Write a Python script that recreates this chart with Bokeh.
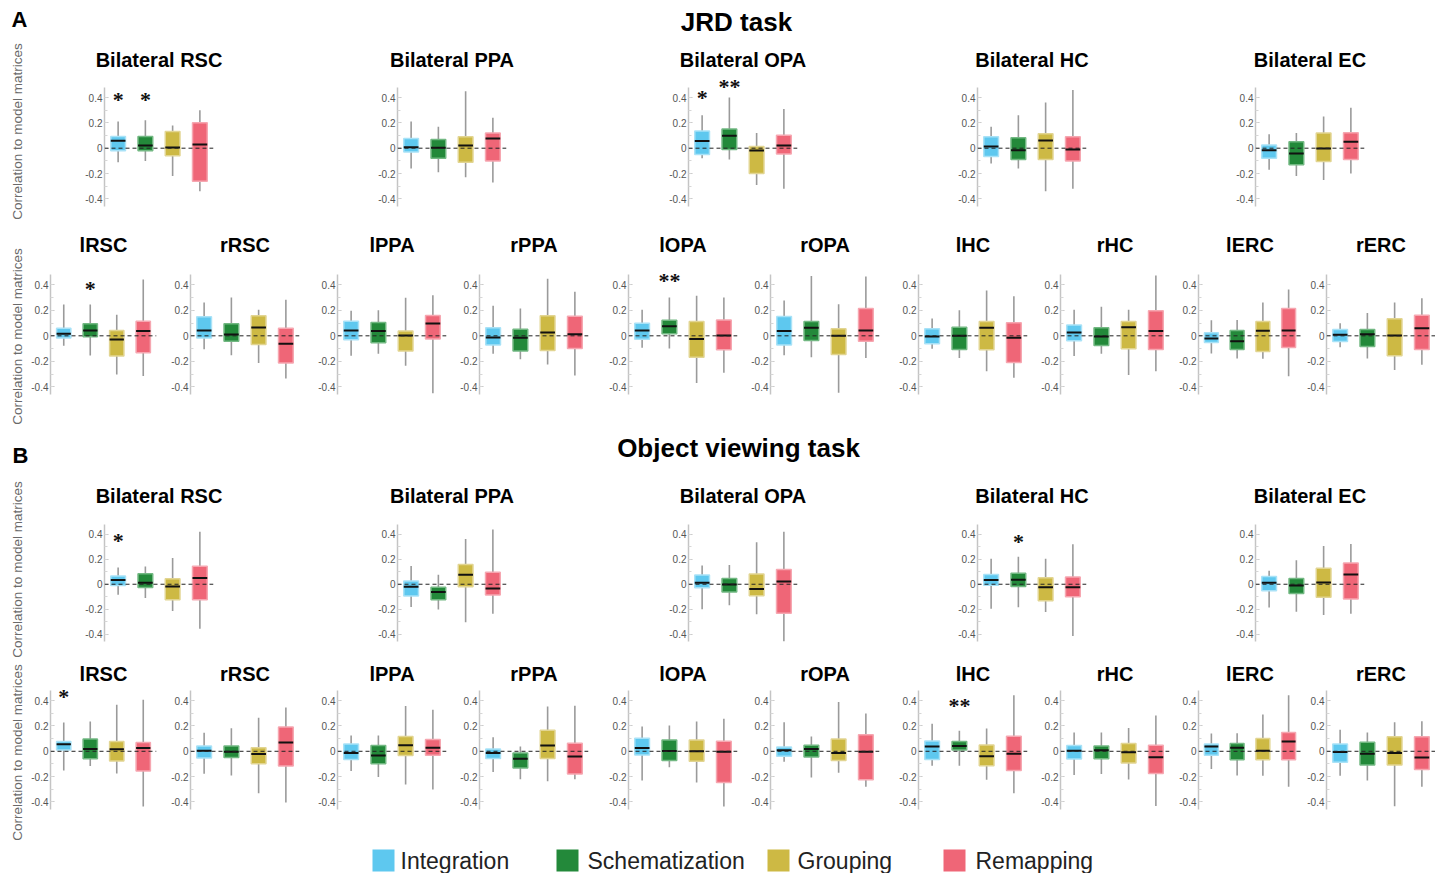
import math
from bokeh.plotting import figure
from bokeh.layouts import column, row
from bokeh.models import (Range1d, FixedTicker, Span, ColumnDataSource, CustomJSTickFormatter,
                          LabelSet)
from bokeh.core.properties import value
from bokeh.embed import file_html
from bokeh.resources import INLINE

# ---------------- data ----------------
conditions = ["Integration", "Schematization", "Grouping", "Remapping"]
cond_colors = ["#5ec8ef", "#23893a", "#cdb944", "#ef6677"]
cond_edges = ["#a9e2f7", "#72b882", "#e2d592", "#f6a7b1"]

bilateral_rois = ["Bilateral RSC", "Bilateral PPA", "Bilateral OPA", "Bilateral HC", "Bilateral EC"]
hemi_rois = ["lRSC", "rRSC", "lPPA", "rPPA", "lOPA", "rOPA", "lHC", "rHC", "lERC", "rERC"]

tick_values = [-0.4, -0.2, 0, 0.2, 0.4]
minor_tick_values = [-0.4, -0.3, -0.2, -0.1, 0, 0.1, 0.2, 0.3, 0.4]

# JRD task, bilateral ROIs (per ROI: Integration, Schematization, Grouping, Remapping)
jrd_bi_lo = [[-0.11, -0.10, -0.22, -0.34], [-0.16, -0.19, -0.23, -0.27], [-0.08, -0.09, -0.29, -0.32],
             [-0.12, -0.16, -0.34, -0.32], [-0.17, -0.22, -0.25, -0.20]]
jrd_bi_q1 = [[-0.02, -0.02, -0.06, -0.26], [-0.03, -0.08, -0.11, -0.10], [-0.05, -0.01, -0.20, -0.045],
             [-0.065, -0.09, -0.09, -0.10], [-0.08, -0.13, -0.105, -0.09]]
jrd_bi_med = [[0.058, 0.021, 0.005, 0.029], [0.008, 0.003, 0.021, 0.077], [0.056, 0.098, -0.019, 0.021],
              [0.013, -0.016, 0.061, -0.011], [-0.016, -0.042, -0.003, 0.05]]
jrd_bi_q3 = [[0.093, 0.093, 0.132, 0.20], [0.077, 0.069, 0.09, 0.12], [0.135, 0.151, 0.013, 0.103],
             [0.09, 0.082, 0.114, 0.09], [0.026, 0.05, 0.119, 0.122]]
jrd_bi_hi = [[0.21, 0.22, 0.18, 0.30], [0.21, 0.17, 0.45, 0.24], [0.26, 0.40, 0.12, 0.31],
             [0.17, 0.26, 0.36, 0.46], [0.11, 0.12, 0.25, 0.32]]
jrd_bi_sig = [(0, 0, "*", 0.385), (0, 1, "*", 0.385), (2, 0, "*", 0.40), (2, 1, "**", 0.49)]

# JRD task, hemispheric ROIs
jrd_hemi_lo = [[-0.078, -0.154, -0.303, -0.314], [-0.105, -0.152, -0.214, -0.335], [-0.157, -0.141, -0.235, -0.45],
               [-0.141, -0.183, -0.225, -0.311], [-0.094, -0.099, -0.369, -0.29], [-0.152, -0.167, -0.447, -0.173],
               [-0.102, -0.173, -0.277, -0.329], [-0.159, -0.141, -0.308, -0.277], [-0.139, -0.178, -0.18, -0.316],
               [-0.089, -0.178, -0.267, -0.227]]
jrd_hemi_q1 = [[-0.018, -0.008, -0.159, -0.133], [-0.018, -0.042, -0.068, -0.214], [-0.031, -0.055, -0.118, -0.024],
               [-0.071, -0.118, -0.115, -0.099], [-0.026, 0.016, -0.167, -0.11], [-0.071, -0.037, -0.146, -0.042],
               [-0.063, -0.107, -0.11, -0.209], [-0.039, -0.076, -0.102, -0.107], [-0.052, -0.107, -0.123, -0.092],
               [-0.044, -0.084, -0.157, -0.107]]
jrd_hemi_med = [[0.016, 0.042, -0.029, 0.037], [0.042, 0.01, 0.065, -0.063], [0.042, 0.037, 0.003, 0.097],
                [-0.013, -0.016, 0.026, 0.013], [0.042, 0.076, -0.024, 0.003], [0.037, 0.063, 0.0, 0.042],
                [-0.005, 0.0, 0.063, -0.016], [0.026, -0.005, 0.068, 0.037], [-0.021, -0.042, 0.039, 0.042],
                [0.008, 0.013, 0.003, 0.06]]
jrd_hemi_q3 = [[0.06, 0.094, 0.042, 0.115], [0.149, 0.094, 0.157, 0.06], [0.115, 0.105, 0.037, 0.159],
               [0.063, 0.052, 0.157, 0.154], [0.099, 0.123, 0.112, 0.125], [0.152, 0.112, 0.055, 0.214],
               [0.055, 0.068, 0.112, 0.102], [0.084, 0.063, 0.112, 0.196], [0.024, 0.042, 0.112, 0.214],
               [0.05, 0.05, 0.133, 0.162]]
jrd_hemi_hi = [[0.246, 0.246, 0.165, 0.442], [0.261, 0.30, 0.204, 0.282], [0.196, 0.201, 0.298, 0.319],
               [0.235, 0.214, 0.447, 0.345], [0.204, 0.30, 0.314, 0.30], [0.277, 0.47, 0.248, 0.465],
               [0.136, 0.201, 0.356, 0.311], [0.204, 0.227, 0.204, 0.473], [0.123, 0.125, 0.261, 0.363],
               [0.099, 0.178, 0.261, 0.295]]
jrd_hemi_sig = [(0, 1, "*", 0.37), (4, 1, "**", 0.43)]

# Object viewing task, bilateral ROIs
ov_bi_lo = [[-0.084, -0.11, -0.216, -0.358], [-0.182, -0.203, -0.305, -0.237], [-0.20, -0.168, -0.242, -0.46],
            [-0.197, -0.184, -0.224, -0.416], [-0.187, -0.221, -0.247, -0.237]]
ov_bi_q1 = [[-0.011, -0.026, -0.124, -0.124], [-0.095, -0.124, -0.021, -0.087], [-0.029, -0.063, -0.092, -0.234],
            [-0.008, -0.018, -0.132, -0.10], [-0.053, -0.074, -0.105, -0.118]]
ov_bi_med = [[0.034, 0.011, -0.018, 0.05], [-0.021, -0.063, 0.076, -0.034], [0.011, -0.003, -0.039, 0.021],
             [0.034, 0.037, -0.024, -0.024], [0.011, -0.011, 0.013, 0.079]]
ov_bi_q3 = [[0.066, 0.084, 0.045, 0.145], [0.026, -0.024, 0.158, 0.097], [0.074, 0.047, 0.082, 0.118],
            [0.079, 0.089, 0.053, 0.058], [0.063, 0.047, 0.129, 0.171]]
ov_bi_hi = [[0.134, 0.142, 0.21, 0.421], [0.147, 0.076, 0.363, 0.44], [0.15, 0.155, 0.337, 0.421],
            [0.205, 0.221, 0.205, 0.321], [0.108, 0.192, 0.308, 0.324]]
ov_bi_sig = [(0, 0, "*", 0.35), (3, 1, "*", 0.34)]

# Object viewing task, hemispheric ROIs
ov_hemi_lo = [[-0.151, -0.117, -0.175, -0.437], [-0.177, -0.191, -0.331, -0.405], [-0.156, -0.204, -0.262, -0.302],
              [-0.164, -0.22, -0.236, -0.22], [-0.23, -0.127, -0.246, -0.437], [-0.082, -0.207, -0.17, -0.281],
              [-0.114, -0.114, -0.225, -0.331], [-0.188, -0.18, -0.223, -0.432], [-0.14, -0.191, -0.193, -0.281],
              [-0.193, -0.23, -0.434, -0.281]]
ov_hemi_q1 = [[0.011, -0.058, -0.077, -0.156], [-0.053, -0.05, -0.098, -0.117], [-0.064, -0.098, -0.034, -0.032],
              [-0.056, -0.132, -0.056, -0.18], [-0.029, -0.072, -0.079, -0.246], [-0.04, -0.045, -0.072, -0.225],
              [-0.064, 0.011, -0.114, -0.151], [-0.061, -0.058, -0.093, -0.175], [-0.032, -0.066, -0.066, -0.066],
              [-0.087, -0.109, -0.109, -0.143]]
ov_hemi_med = [[0.056, 0.019, 0.016, 0.026], [0.005, -0.003, -0.021, 0.069], [-0.013, -0.034, 0.048, 0.029],
               [-0.013, -0.058, 0.045, -0.042], [0.026, 0.003, 0.0, -0.003], [0.008, 0.019, -0.013, -0.003],
               [0.037, 0.042, -0.04, -0.019], [0.005, 0.008, -0.008, -0.048], [0.037, 0.029, 0.005, 0.077],
               [-0.005, -0.019, -0.013, -0.05]]
ov_hemi_q3 = [[0.077, 0.098, 0.077, 0.069], [0.042, 0.042, 0.029, 0.193], [0.058, 0.045, 0.117, 0.093],
              [0.019, -0.013, 0.167, 0.064], [0.103, 0.09, 0.09, 0.079], [0.034, 0.048, 0.098, 0.13],
              [0.082, 0.077, 0.05, 0.119], [0.045, 0.042, 0.061, 0.048], [0.058, 0.061, 0.101, 0.148],
              [0.058, 0.072, 0.114, 0.114]]
ov_hemi_hi = [[0.228, 0.236, 0.368, 0.408], [0.146, 0.183, 0.265, 0.347], [0.125, 0.125, 0.358, 0.328],
              [0.111, 0.037, 0.355, 0.36], [0.196, 0.204, 0.236, 0.257], [0.23, 0.117, 0.39, 0.299],
              [0.217, 0.162, 0.18, 0.442], [0.148, 0.148, 0.185, 0.283], [0.14, 0.143, 0.291, 0.442],
              [0.17, 0.148, 0.23, 0.238]]
ov_hemi_sig = [(0, 0, "*", 0.43), (6, 1, "**", 0.36)]

# ---------------- styling / layout constants ----------------
FONT = "Liberation Sans"
Y0, Y_AXIS_TOP = -0.46, 0.48
FRAME_W = 109
BOX_W = 0.54
WHISKER = "#9a9a9a"
YLABEL = "Correlation to model matrices"
PAGE_H = 873
LAB_W = 28          # width of the left strip holding the rotated y labels and panel letters


def blank_fig(w, h):
    p = figure(width=w, height=h, x_range=Range1d(0, w), y_range=Range1d(0, h),
               output_backend="svg", toolbar_location=None,
               x_axis_location=None, y_axis_location=None, min_border=0)
    p.outline_line_color = None
    p.grid.visible = False
    p.background_fill_color = "white"
    p.border_fill_color = "white"
    return p


def add_text(p, x, y_top, txt, size, bold=False, align="center", color="black", angle=0.0):
    h = p.height
    p.text(x=[x], y=[h - y_top], text=[txt], text_font=value(FONT), text_font_size=size,
           text_font_style="bold" if bold else "normal", text_align=align,
           text_baseline="middle", text_color=color, angle=angle)


def panel(title, lo, q1, med, q3, hi, sigs, width, left, top, bottom, fh, standoff, y_top):
    right = max(width - left - FRAME_W, 0)
    p = figure(width=width, height=top + fh + bottom, x_range=Range1d(0.5, 4.5),
               y_range=Range1d(Y0, y_top), output_backend="svg", toolbar_location=None,
               x_axis_location=None, title=title,
               min_border_left=left, min_border_right=right,
               min_border_top=top, min_border_bottom=bottom)
    p.outline_line_color = None
    p.grid.visible = False
    p.title.text_font = FONT
    p.title.text_font_size = "20px"
    p.title.text_font_style = "bold"
    p.title.align = "center"
    p.title.standoff = standoff
    p.title.text_color = "black"

    xs = [1, 2, 3, 4]
    src = ColumnDataSource(dict(
        x=xs, lo=lo, q1=q1, med=med, q3=q3, hi=hi,
        xl=[x - BOX_W / 2 for x in xs], xr=[x + BOX_W / 2 for x in xs],
        color=cond_colors, edge=cond_edges))
    p.segment(x0="x", y0="lo", x1="x", y1="q1", source=src, line_color=WHISKER, line_width=1.6)
    p.segment(x0="x", y0="q3", x1="x", y1="hi", source=src, line_color=WHISKER, line_width=1.6)
    p.vbar(x="x", width=BOX_W, bottom="q1", top="q3", source=src,
           fill_color="color", line_color="edge", line_width=1.5)
    p.segment(x0="xl", y0="med", x1="xr", y1="med", source=src, line_color="#111111", line_width=2)
    p.add_layout(Span(location=0, dimension="width", line_color="#222222",
                      line_dash="4 3", line_width=1))
    if sigs:
        ssrc = ColumnDataSource(dict(x=[c + 1 for c, _, _ in sigs],
                                     y=[y for _, _, y in sigs],
                                     text=[s for _, s, _ in sigs]))
        p.add_layout(LabelSet(x="x", y="y", text="text", source=ssrc, text_font=FONT,
                              text_font_size="22px", text_font_style="bold",
                              text_align="center", text_baseline="middle", text_color="#111111"))

    ax = p.yaxis[0]
    ax.bounds = (Y0, Y_AXIS_TOP)
    ax.ticker = FixedTicker(ticks=tick_values, minor_ticks=minor_tick_values)
    ax.formatter = CustomJSTickFormatter(code="return Math.abs(tick) < 1e-9 ? '0' : tick.toFixed(1);")
    ax.axis_line_color = "#c4c4c4"
    ax.axis_line_width = 1.5
    ax.major_tick_in = 4
    ax.major_tick_out = 0
    ax.major_tick_line_color = "#c4c4c4"
    ax.minor_tick_in = 3
    ax.minor_tick_out = 0
    ax.minor_tick_line_color = "#d6d6d6"
    ax.major_label_text_font = FONT
    ax.major_label_text_font_size = "10px"
    ax.major_label_text_color = "#555555"
    ax.major_label_standoff = 2
    return p


def sig_for(sigs, i):
    return [(c, s, y) for (pi, c, s, y) in sigs if pi == i]


def build_row(rois, lo, q1, med, q3, hi, sigs, widths, first_left, left, top, bottom, fh,
              standoff, y_top):
    kids = []
    for i, name in enumerate(rois):
        kids.append(panel(name, lo[i], q1[i], med[i], q3[i], hi[i], sig_for(sigs, i),
                          widths[i], first_left if i == 0 else left, top, bottom, fh,
                          standoff, y_top))
    return row(*kids, spacing=0)


TOTAL_W = 1443 - 8 - LAB_W
BI_WIDTHS = [367 - LAB_W, 291, 289, 278, 149]
HEMI_WIDTHS = [165 - LAB_W, 147, 142, 149, 142, 148, 142, 138, 128, 134]

# left strip: panel letters and the four rotated y-axis labels (page coordinates)
ylab = blank_fig(LAB_W, PAGE_H)
add_text(ylab, 11, 19, "A", "22px", bold=True, align="left")
add_text(ylab, 12, 455, "B", "22px", bold=True, align="left")
for yc in [131, 336, 569, 752]:
    add_text(ylab, 16.5, yc, YLABEL, "13.5px", color="#6a6a6a", angle=math.pi / 2)

# header A (page y 0-35)
hA = blank_fig(TOTAL_W, 35)
add_text(hA, 736 - LAB_W, 21, "JRD task", "26px", bold=True)

# row 1 (35-211), row 2 (211-414)
row1 = build_row(bilateral_rois, jrd_bi_lo, jrd_bi_q1, jrd_bi_med, jrd_bi_q3, jrd_bi_hi, jrd_bi_sig,
                 BI_WIDTHS, 104 - LAB_W, 30, 43, 5, 128, 15, 0.55)
row2 = build_row(hemi_rois, jrd_hemi_lo, jrd_hemi_q1, jrd_hemi_med, jrd_hemi_q3, jrd_hemi_hi, jrd_hemi_sig,
                 HEMI_WIDTHS, 47 - LAB_W, 25, 58, 20, 125, 27, 0.52)

# header B (414-470)
hB = blank_fig(TOTAL_W, 56)
add_text(hB, 738 - LAB_W, 33, "Object viewing task", "26px", bold=True)

# row 3 (470-645), row 4 (645-819)
row3 = build_row(bilateral_rois, ov_bi_lo, ov_bi_q1, ov_bi_med, ov_bi_q3, ov_bi_hi, ov_bi_sig,
                 BI_WIDTHS, 104 - LAB_W, 30, 47, 4, 124, 25, 0.52)
row4 = build_row(hemi_rois, ov_hemi_lo, ov_hemi_q1, ov_hemi_med, ov_hemi_q3, ov_hemi_hi, ov_hemi_sig,
                 HEMI_WIDTHS, 47 - LAB_W, 25, 40, 10, 124, 2, 0.52)

# legend (819-873)
leg = blank_fig(TOTAL_W, 54)
leg_sq_x = [383 - LAB_W, 567 - LAB_W, 778 - LAB_W, 954 - LAB_W]
leg_tx_x = [400 - LAB_W, 587 - LAB_W, 797 - LAB_W, 975 - LAB_W]
LEG_Y = 41
leg.rect(x=leg_sq_x, y=[leg.height - LEG_Y] * 4, width=22, height=22,
         fill_color=cond_colors, line_color=None)
leg.text(x=leg_tx_x, y=[leg.height - LEG_Y] * 4, text=conditions, text_font=value(FONT),
         text_font_size="23px", text_align="left", text_baseline="middle", text_color="#222222")

main = column(hA, row1, row2, hB, row3, row4, leg, spacing=0)
layout = row(ylab, main, spacing=0)

open("out.html", "w").write(file_html(layout, INLINE))
